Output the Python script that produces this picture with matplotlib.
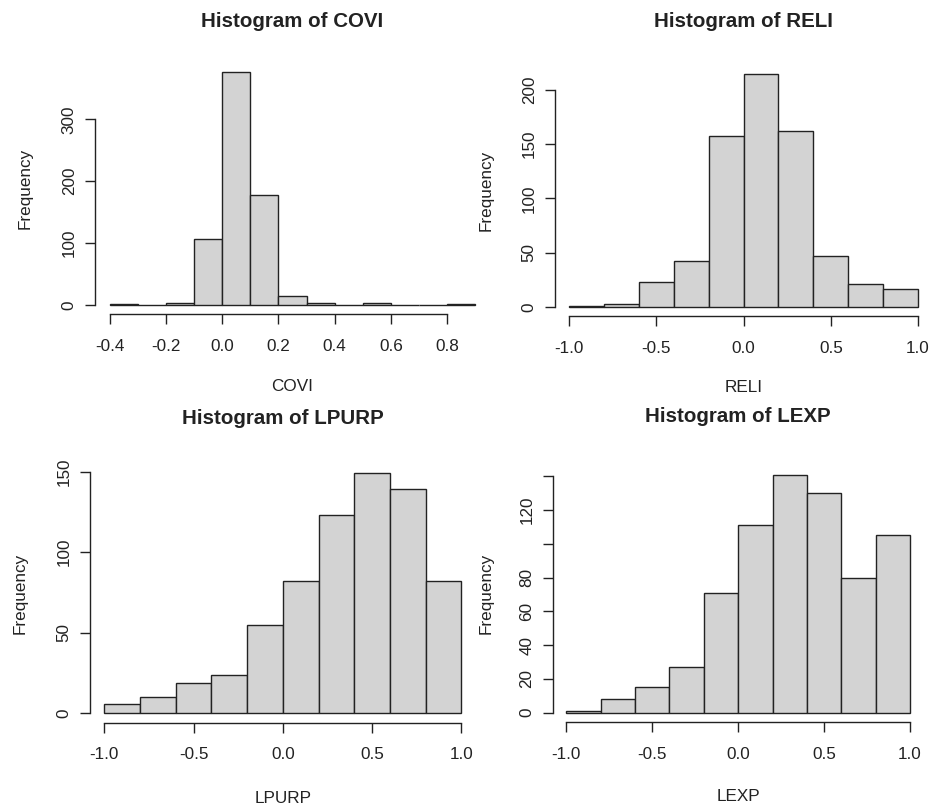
import numpy as np
import matplotlib
matplotlib.use("Agg")
import matplotlib.pyplot as plt

plt.rcParams['font.family'] = ['Liberation Sans', 'DejaVu Sans']

# ---- data (bin edges and counts) ----
covi_edges = [-0.4, -0.3, -0.2, -0.1, 0.0, 0.1, 0.2, 0.3, 0.4, 0.5, 0.6, 0.7, 0.8, 0.9]
covi_counts = [1, 0, 4, 107, 376, 177, 15, 3, 0, 3, 0, 0, 1]
covi_yticks = [0, 100, 200, 300]
covi_ylabels = ["0", "100", "200", "300"]
covi_xticks = [-0.4, -0.2, 0.0, 0.2, 0.4, 0.6, 0.8]
covi_xlabels = ["-0.4", "-0.2", "0.0", "0.2", "0.4", "0.6", "0.8"]

reli_edges = [-1.0, -0.8, -0.6, -0.4, -0.2, 0.0, 0.2, 0.4, 0.6, 0.8, 1.0]
reli_counts = [1, 3, 23, 42, 158, 215, 162, 47, 21, 17]
reli_yticks = [0, 50, 100, 150, 200]
reli_ylabels = ["0", "50", "100", "150", "200"]

lpurp_edges = [-1.0, -0.8, -0.6, -0.4, -0.2, 0.0, 0.2, 0.4, 0.6, 0.8, 1.0]
lpurp_counts = [6, 10, 19, 24, 55, 82, 123, 149, 139, 82]
lpurp_yticks = [0, 50, 100, 150]
lpurp_ylabels = ["0", "50", "100", "150"]

lexp_edges = [-1.0, -0.8, -0.6, -0.4, -0.2, 0.0, 0.2, 0.4, 0.6, 0.8, 1.0]
lexp_counts = [1, 8, 15, 27, 71, 111, 141, 130, 80, 105]
lexp_yticks = [0, 20, 40, 60, 80, 100, 120, 140]
lexp_ylabels = ["0", "20", "40", "60", "80", "", "120", ""]

pm_xticks = [-1.0, -0.5, 0.0, 0.5, 1.0]
pm_xlabels = ["-1.0", "-0.5", "0.0", "0.5", "1.0"]

names = ["COVI", "RELI", "LPURP", "LEXP"]

W, H = 934, 805
fig = plt.figure(figsize=(W / 100, H / 100), dpi=100)

FILL = "#D3D3D3"
INK = "#222222"
TICK_FS = 12.3
LAB_FS = 12.3
TITLE_FS = 14.8


def figtext(x, y, s, **kw):
    fig.text(x / W, 1 - y / H, s, ha="center", va="center", color=INK, **kw)


def panel(box, edges, counts, xticks, xlabels, yticks, ylabels, name,
          title_y, xlabel_y, ylabel_x):
    l, t, r, b = box
    ax = fig.add_axes([l / W, 1 - b / H, (r - l) / W, (b - t) / H])
    edges = np.asarray(edges, float)
    counts = np.asarray(counts, float)
    ax.bar(edges[:-1], counts, width=np.diff(edges), align="edge",
           color=FILL, edgecolor=INK, linewidth=1.0)
    rng = edges[-1] - edges[0]
    ax.set_xlim(edges[0] - 0.04 * rng, edges[-1] + 0.04 * rng)
    ax.set_ylim(-0.04 * counts.max(), 1.04 * counts.max())
    for s in ("top", "right"):
        ax.spines[s].set_visible(False)
    ax.spines["left"].set_bounds(yticks[0], yticks[-1])
    ax.spines["bottom"].set_bounds(xticks[0], xticks[-1])
    for s in ("left", "bottom"):
        ax.spines[s].set_color(INK)
        ax.spines[s].set_linewidth(1.0)
    ax.set_xticks(xticks, xlabels)
    ax.set_yticks(yticks, ylabels)
    ax.tick_params(axis="both", direction="out", length=7.2, width=1.0,
                   color=INK, labelcolor=INK, labelsize=TICK_FS)
    ax.tick_params(axis="x", pad=10.5)
    ax.tick_params(axis="y", pad=6, labelrotation=90)
    for lab in ax.get_yticklabels():
        lab.set_va("center")
    ax.patch.set_visible(False)
    cx = (l + r) / 2
    cy = (t + b) / 2
    figtext(cx, title_y, "Histogram of " + name, fontsize=TITLE_FS, fontweight="bold")
    figtext(cx, xlabel_y, name, fontsize=LAB_FS)
    figtext(ylabel_x, cy, "Frequency", fontsize=LAB_FS, rotation=90)
    return ax


panel((95, 63.0, 490, 314.3), covi_edges, covi_counts, covi_xticks, covi_xlabels,
      covi_yticks, covi_ylabels, names[0], 21.7, 386.7, 25)
panel((555, 64.4, 932, 316.3), reli_edges, reli_counts, pm_xticks, pm_xlabels,
      reli_yticks, reli_ylabels, names[1], 21.7, 387, 486)
panel((90, 463.6, 475.6, 722.9), lpurp_edges, lpurp_counts, pm_xticks, pm_xlabels,
      lpurp_yticks, lpurp_ylabels, names[2], 418.3, 798, 20)
panel((552.6, 465.0, 923.7, 722.2), lexp_edges, lexp_counts, pm_xticks, pm_xlabels,
      lexp_yticks, lexp_ylabels, names[3], 416.7, 796.7, 486)

fig.savefig("out.png", dpi=100, facecolor="white")
